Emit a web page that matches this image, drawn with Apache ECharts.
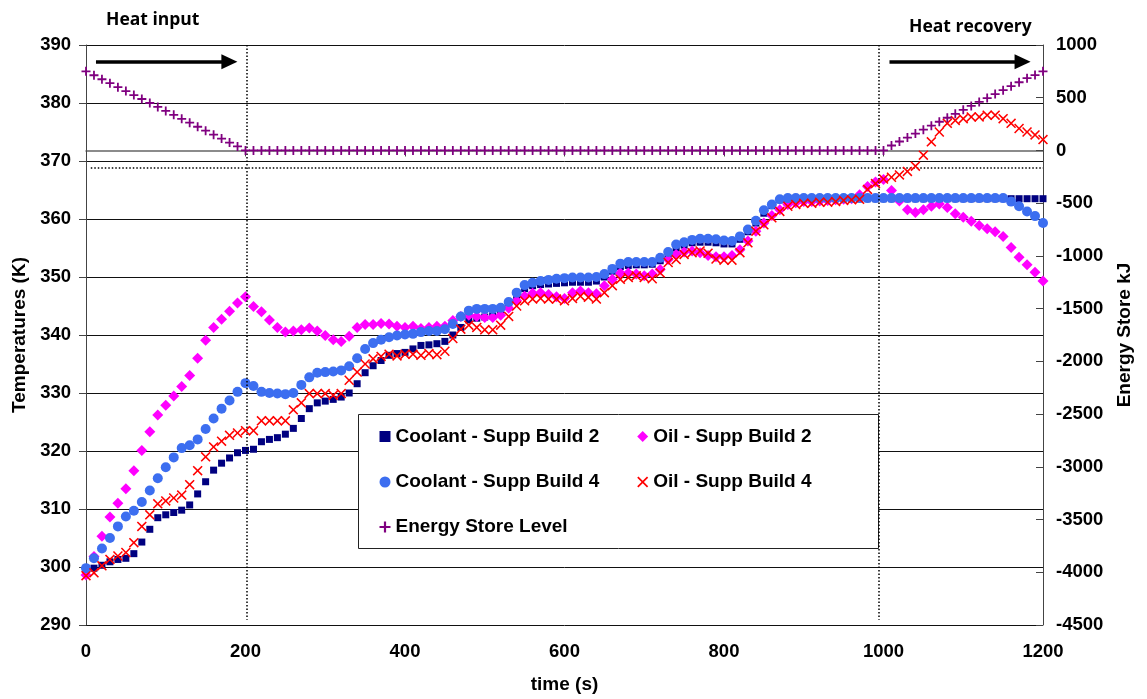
<!DOCTYPE html>
<html>
<head>
<meta charset="utf-8">
<script src="https://cdn.jsdelivr.net/npm/echarts@6/dist/echarts.min.js"></script>
<style>
html,body{margin:0;padding:0;background:#fff;}
#chart{width:1147px;height:699px;}
</style>
</head>
<body>
<div id="chart"></div>
<script>
// ---------- DATA ----------
const times = [0,10,20,30,40,50,60,70,80,90,100,110,120,130,140,150,160,170,180,190,
200,210,220,230,240,250,260,270,280,290,300,310,320,330,340,350,360,370,380,390,
400,410,420,430,440,450,460,470,480,490,500,510,520,530,540,550,560,570,580,590,
600,610,620,630,640,650,660,670,680,690,700,710,720,730,740,750,760,770,780,790,
800,810,820,830,840,850,860,870,880,890,900,910,920,930,940,950,960,970,980,990,
1000,1010,1020,1030,1040,1050,1060,1070,1080,1090,1100,1110,1120,1130,1140,1150,1160,1170,1180,1190,1200];

const coolantSB2 = [299.6,299.8,300.3,300.9,301.3,301.5,302.3,304.3,306.5,308.5,309.0,309.4,309.8,310.7,312.6,314.7,316.7,317.9,318.8,319.7,
320.1,320.3,321.6,322.0,322.3,322.9,323.9,325.6,327.3,328.3,328.6,328.9,329.3,330.0,331.6,333.5,334.7,335.6,336.5,336.8,
337.0,337.6,338.2,338.3,338.5,338.9,340.0,341.3,342.6,342.9,343.1,343.3,343.8,345.0,346.8,348.0,348.5,348.7,348.8,348.9,
349.0,349.1,349.1,349.1,349.3,350.0,351.0,351.8,352.0,352.1,352.1,352.2,352.8,353.8,355.0,355.5,355.9,356.0,356.0,355.9,
355.7,355.7,356.5,357.8,359.3,361.0,362.3,363.3,363.5,363.5,363.5,363.5,363.5,363.5,363.5,363.5,363.5,363.5,363.5,363.5,
363.5,363.5,363.5,363.5,363.5,363.5,363.5,363.5,363.5,363.5,363.5,363.5,363.5,363.5,363.5,363.5,363.5,363.5,363.5,363.5,363.5];

const oilSB2 = [298.6,301.8,305.3,308.6,311.0,313.5,316.6,320.1,323.3,326.2,327.9,329.5,331.1,333.0,336.0,339.1,341.3,342.7,344.1,345.5,
346.6,344.9,344.0,342.6,341.3,340.5,340.7,340.9,341.2,340.7,339.9,339.2,338.9,339.8,341.3,341.8,341.8,342.0,341.9,341.5,
341.3,341.5,341.1,341.3,341.5,341.5,342.5,343.2,343.4,343.2,343.0,343.0,343.4,344.6,345.9,346.7,347.2,347.3,347.0,346.6,
346.3,347.3,347.6,347.3,347.1,348.5,349.6,350.7,350.7,350.5,350.2,350.5,351.3,353.0,353.9,354.3,354.5,354.2,353.7,353.5,
353.5,353.7,354.7,356.2,357.9,359.3,360.6,361.6,362.5,362.8,363.0,363.0,363.1,363.2,363.3,363.4,363.5,364.2,365.6,366.4,
366.8,364.9,363.1,361.6,361.1,361.6,362.2,362.6,362.0,360.9,360.3,359.6,358.9,358.3,357.8,357.0,355.1,353.4,352.1,350.8,349.3];

const coolantSB4 = [299.8,301.5,303.2,305.0,307.0,308.7,309.7,311.2,313.2,315.3,317.2,318.9,320.5,321.0,322.0,323.8,325.6,327.3,328.7,330.2,
331.7,331.2,330.2,330.0,329.9,329.8,330.0,331.4,332.7,333.5,333.6,333.7,333.9,334.6,336.0,337.6,338.6,339.2,339.6,339.9,
340.1,340.2,340.5,340.7,340.7,341.0,341.9,343.2,344.2,344.5,344.5,344.5,344.7,345.7,347.3,348.6,349.0,349.3,349.5,349.7,
349.8,349.9,349.9,349.9,350.0,350.5,351.4,352.3,352.6,352.6,352.6,352.6,353.3,354.3,355.6,356.0,356.4,356.6,356.6,356.5,
356.3,356.2,357.0,358.2,359.7,361.5,362.5,363.4,363.6,363.6,363.6,363.6,363.6,363.6,363.6,363.6,363.6,363.6,363.6,363.6,
363.6,363.6,363.6,363.6,363.6,363.6,363.6,363.6,363.6,363.6,363.6,363.6,363.6,363.6,363.6,363.6,363.0,362.2,361.3,360.5,359.3];

const oilSB4 = [298.5,299.0,300.2,301.3,301.9,302.5,304.2,307.0,309.0,310.9,311.4,311.9,312.4,314.2,316.6,319.0,320.7,321.7,322.7,323.1,
323.5,323.5,325.2,325.2,325.2,325.2,327.1,328.3,329.9,329.9,329.9,329.6,329.9,332.2,333.6,335.0,335.9,336.3,336.7,336.4,
336.7,336.7,336.5,336.8,336.6,337.2,339.4,341.0,341.7,341.3,340.9,340.9,341.7,343.2,345.0,345.9,346.2,346.3,346.2,346.2,
345.9,346.3,346.7,346.5,346.2,347.3,348.5,349.6,349.9,350.2,349.9,349.7,350.7,352.5,353.0,353.9,354.2,354.5,354.1,353.1,
352.9,352.9,354.2,355.9,357.9,359.0,360.2,361.3,362.2,362.5,362.7,362.7,362.9,362.9,363.0,363.2,363.3,363.4,365.1,366.1,
366.9,367.2,367.6,368.2,369.1,371.0,373.3,375.0,376.5,377.0,377.3,377.6,377.6,377.9,377.9,377.3,376.5,375.6,375.0,374.5,373.7];

const energyStore = [750,713,675,638,600,563,525,488,450,413,375,338,300,263,225,188,150,113,75,38,
0,0,0,0,0,0,0,0,0,0,0,0,0,0,0,0,0,0,0,0,
0,0,0,0,0,0,0,0,0,0,0,0,0,0,0,0,0,0,0,0,
0,0,0,0,0,0,0,0,0,0,0,0,0,0,0,0,0,0,0,0,
0,0,0,0,0,0,0,0,0,0,0,0,0,0,0,0,0,0,0,0,
0,47,85,122,160,197,235,272,310,347,385,422,460,497,535,572,610,647,685,715,750];

const seriesNames = ['Coolant - Supp Build 2','Oil - Supp Build 2','Coolant - Supp Build 4','Oil - Supp Build 4','Energy Store Level'];
const tempTicks = {min:290, max:390, interval:10};
const energyTicks = {min:-4500, max:1000, interval:500};
const timeTicks = {min:0, max:1200, interval:200};
const phaseMarks = {heatInputEnd:202, heatRecoveryStart:994, storeLevelLine:368.9};
const arrowSpans = {input:[12.5, 179.8], recovery:[1007.5, 1174.4], level:387.1};

// ---------- CHART ----------
const FONT = "'Liberation Sans', Arial, Helvetica, sans-serif";
const pair = arr => times.map((t,i)=>[t, arr[i]]);
const X_PATH = 'path://M0,1.1L1.1,0L5,3.9L8.9,0L10,1.1L6.1,5L10,8.9L8.9,10L5,6.1L1.1,10L0,8.9L3.9,5Z';
const PLUS_PATH = 'path://M4,0H6V4H10V6H6V10H4V6H0V4H4Z';

const chart = echarts.init(document.getElementById('chart'), null, {renderer:'canvas'});
const lbl = {color:'#000', fontFamily:FONT, fontWeight:'bold', fontSize:18.5, formatter:v=>String(v)};
const legendText = {color:'#000', fontFamily:FONT, fontWeight:'bold', fontSize:19};
const legendBase = {left:379.5, padding:0, itemWidth:11, itemHeight:11, itemGap:38, textStyle:legendText, selectedMode:false, z:10};

const option = {
  backgroundColor:'#fff',
  animation:false,
  grid:{left:86, right:104, top:45, bottom:71, containLabel:false},
  xAxis:{
    type:'value', min:timeTicks.min, max:timeTicks.max, interval:timeTicks.interval,
    name:'time (s)', nameLocation:'middle', nameGap:50,
    nameTextStyle:{color:'#000', fontFamily:FONT, fontWeight:'bold', fontSize:19},
    axisLine:{lineStyle:{color:'#666', width:1.5}},
    axisTick:{show:true, length:6, lineStyle:{color:'#444'}},
    axisLabel:Object.assign({margin:17}, lbl),
    splitLine:{show:false}
  },
  yAxis:[{
    type:'value', min:tempTicks.min, max:tempTicks.max, interval:tempTicks.interval,
    name:'Temperatures (K)', nameLocation:'middle', nameGap:54,
    nameTextStyle:{color:'#000', fontFamily:FONT, fontWeight:'bold', fontSize:19},
    axisLine:{show:true, lineStyle:{color:'#444', width:1}},
    axisTick:{show:true, length:7, lineStyle:{color:'#444'}},
    axisLabel:Object.assign({margin:15}, lbl),
    splitLine:{show:true, lineStyle:{color:'#111', width:1}}
  },{
    type:'value', min:energyTicks.min, max:energyTicks.max, interval:energyTicks.interval,
    position:'right',
    name:'Energy Store kJ', nameLocation:'middle', nameGap:72,
    nameTextStyle:{color:'#000', fontFamily:FONT, fontWeight:'bold', fontSize:19},
    axisLine:{show:true, lineStyle:{color:'#444', width:1}},
    axisTick:{show:true, inside:true, length:7, lineStyle:{color:'#444'}},
    axisLabel:Object.assign({margin:13}, lbl),
    splitLine:{show:false}
  }],
  legend:[
    Object.assign({data:[seriesNames[0], seriesNames[1]], top:427}, legendBase),
    Object.assign({data:[seriesNames[2], seriesNames[3]], top:472.5}, legendBase),
    Object.assign({data:[seriesNames[4]], top:517.5}, legendBase)
  ],
  graphic:[
    {type:'rect', left:358, top:414, z:1, shape:{width:520, height:134}, style:{fill:'#fff', stroke:'#222', lineWidth:1}},
    {type:'text', x:106, y:20.5, style:{text:'Heat input', fill:'#000', verticalAlign:'middle', font:"bold 17.5px 'Open Sans', sans-serif"}},
    {type:'text', x:909, y:27.5, style:{text:'Heat recovery', fill:'#000', verticalAlign:'middle', font:"bold 17.5px 'Open Sans', sans-serif"}}
  ],
  series:[
    {
      name:seriesNames[0], type:'scatter', yAxisIndex:0, data:pair(coolantSB2),
      symbol:'rect', symbolSize:7, itemStyle:{color:'#000080', opacity:1}, z:2,
      markLine:{
        silent:true, symbol:'none', label:{show:false}, animation:false,
        lineStyle:{color:'#000', type:[1.5,2], width:1.5},
        data:[
          [{coord:[phaseMarks.heatInputEnd, 390]},{coord:[phaseMarks.heatInputEnd, 290.9]}],
          [{coord:[phaseMarks.heatRecoveryStart, 390]},{coord:[phaseMarks.heatRecoveryStart, 290.9]}],
          [{coord:[6, phaseMarks.storeLevelLine]},{coord:[1200, phaseMarks.storeLevelLine]}]
        ]
      }
    },
    {
      name:seriesNames[1], type:'scatter', yAxisIndex:0, data:pair(oilSB2),
      symbol:'diamond', symbolSize:11, itemStyle:{color:'#FF00FF', opacity:1}, z:3,
      markLine:{
        silent:true, symbol:['none','triangle'], symbolSize:[15,16], label:{show:false}, animation:false,
        lineStyle:{color:'#000', type:'solid', width:3.5},
        data:[
          [{coord:[arrowSpans.input[0], arrowSpans.level]},{coord:[arrowSpans.input[1], arrowSpans.level]}],
          [{coord:[arrowSpans.recovery[0], arrowSpans.level]},{coord:[arrowSpans.recovery[1], arrowSpans.level]}]
        ]
      }
    },
    {
      name:seriesNames[2], type:'scatter', yAxisIndex:0, data:pair(coolantSB4),
      symbol:'circle', symbolSize:10, itemStyle:{color:'#3C6EF0', opacity:1}, z:4
    },
    {
      name:seriesNames[3], type:'scatter', yAxisIndex:0, data:pair(oilSB4),
      symbol:X_PATH, symbolSize:10, itemStyle:{color:'#FF0000', opacity:1}, z:5
    },
    {
      name:seriesNames[4], type:'scatter', yAxisIndex:1, data:pair(energyStore),
      symbol:PLUS_PATH, symbolSize:9, itemStyle:{color:'#800080', opacity:1}, z:6
    }
  ]
};
chart.setOption(option);
</script>
</body>
</html>
